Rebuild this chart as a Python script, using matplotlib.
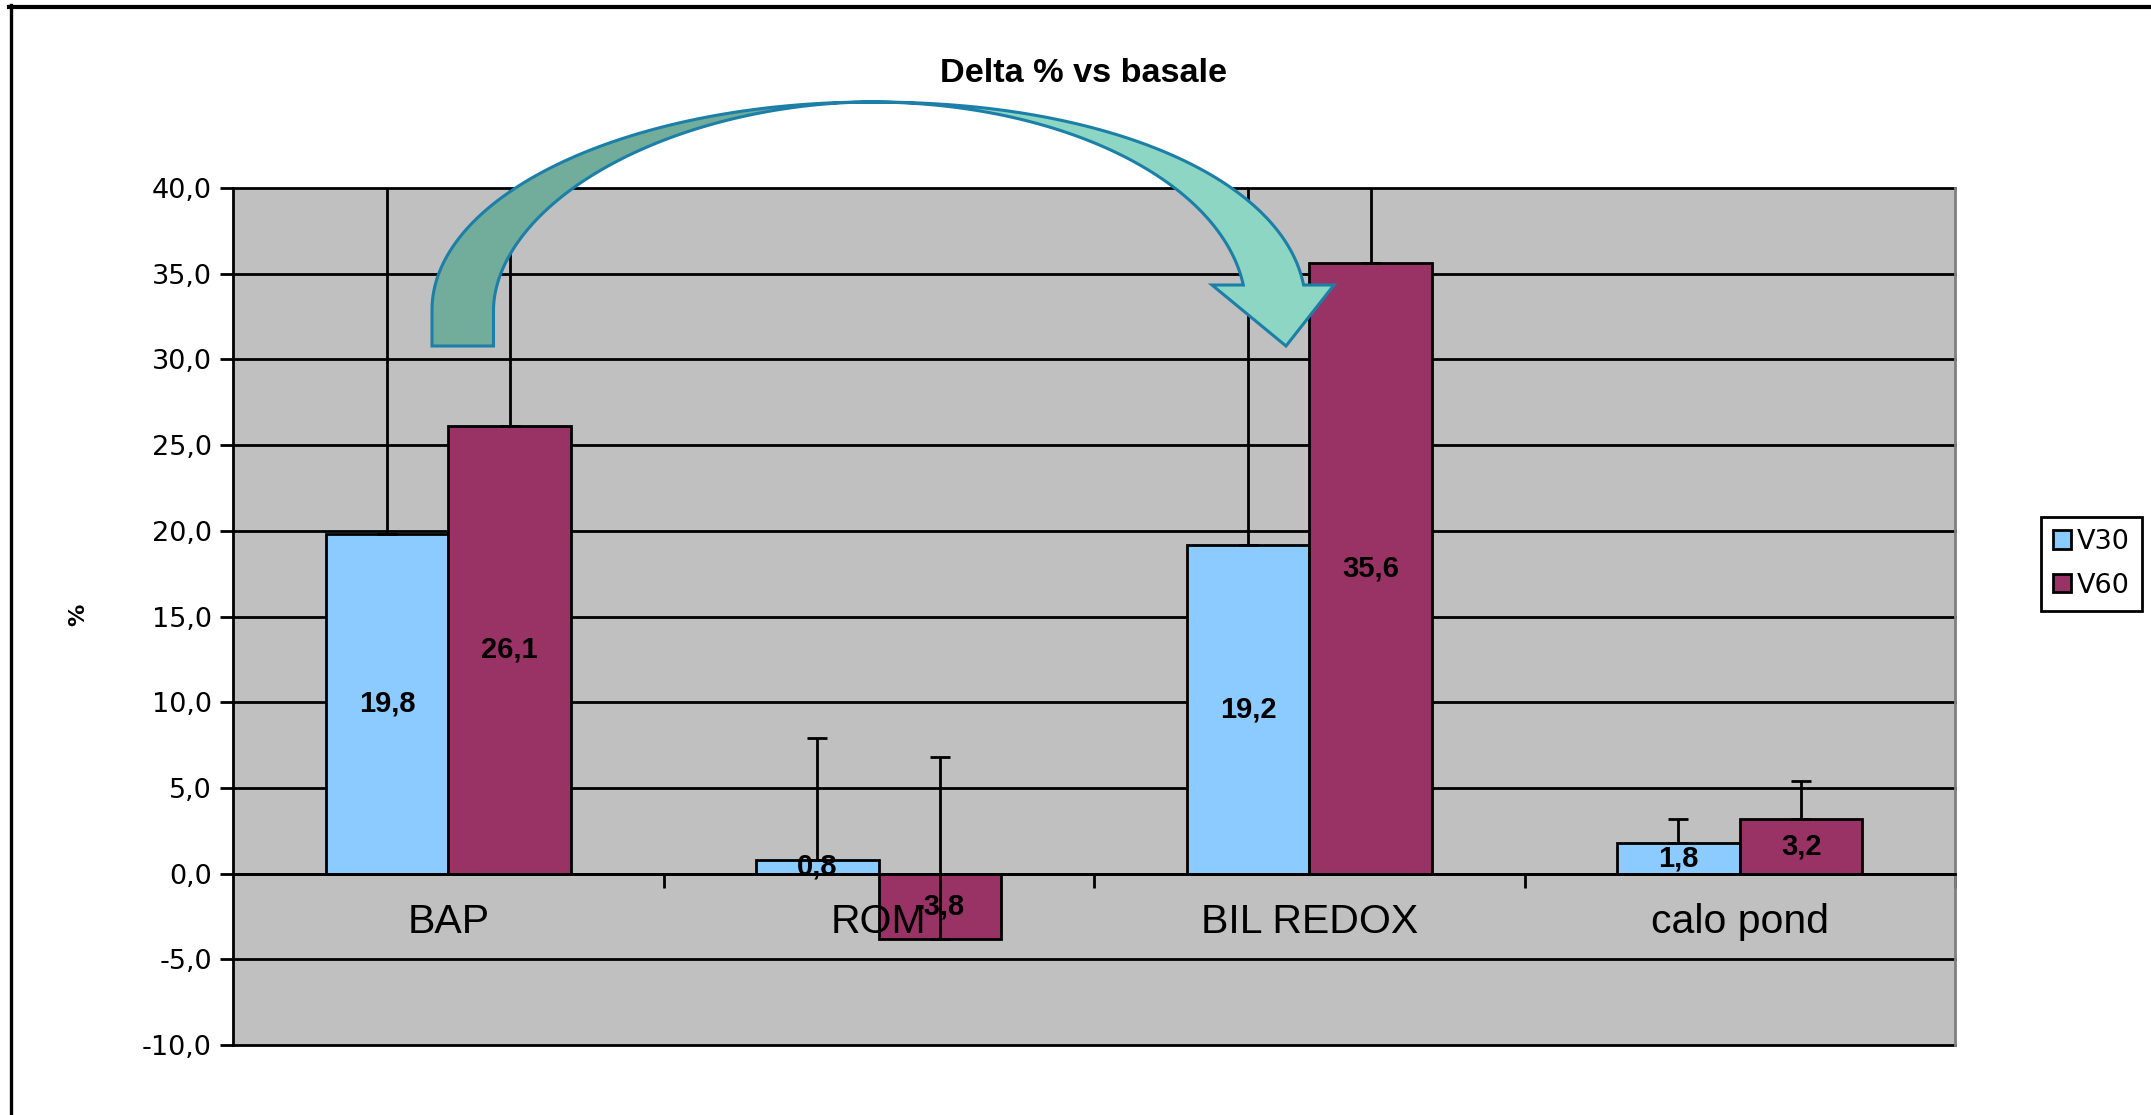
import numpy as np
import matplotlib
matplotlib.use('Agg')
import matplotlib.pyplot as plt
from matplotlib.patches import Polygon, Patch
from matplotlib.lines import Line2D
from matplotlib.ticker import FuncFormatter

categories = ['BAP', 'ROM', 'BIL REDOX', 'calo pond']
series_names = ['V30', 'V60']
v30 = [19.8, 0.8, 19.2, 1.8]
v60 = [26.1, -3.8, 35.6, 3.2]
# upper error only
v30_err = [24.5, 7.1, 26.0, 1.4]
v60_err = [19.0, 10.6, 15.0, 2.2]
colors = ['#8CCBFF', '#993366']

W, H = 2151, 1115
fig = plt.figure(figsize=(W / 100, H / 100), dpi=100)
fig.patch.set_facecolor('white')


def fig_xy(pts):
    pts = np.asarray(pts, dtype=float)
    return np.column_stack([pts[:, 0] / W, 1 - pts[:, 1] / H])


def comma(v, pos=None):
    return f'{v:.1f}'.replace('.', ',')


ax = fig.add_axes([233 / W, 1 - 1045 / H, 1722 / W, 857 / H])
ax.set_facecolor('#C0C0C0')
ax.set_xlim(-0.5, 3.5)
ax.set_ylim(-10, 40)

yt = np.arange(-10, 41, 5)
for y in yt:
    ax.axhline(y, color='black', lw=2, zorder=0.5, clip_on=False)

x = np.arange(len(categories))
bw = 0.285
for off, vals, err, c in [(-bw / 2, v30, v30_err, colors[0]), (bw / 2, v60, v60_err, colors[1])]:
    ax.bar(x + off, vals, bw, color=c, edgecolor='black', linewidth=2, zorder=2)
    ax.errorbar(x + off, vals, yerr=[np.zeros(len(vals)), err], fmt='none',
                ecolor='black', elinewidth=2, capsize=7.2, capthick=2, zorder=3)
    for xi, v in zip(x + off, vals):
        ax.text(xi, v / 2, comma(v), ha='center', va='center', fontsize=21,
                fontweight='bold', family='Liberation Sans', zorder=5)

for i, cat in enumerate(categories):
    ax.text(i, -3.47, cat, ha='center', va='baseline', fontsize=29.5,
            family='Liberation Sans', zorder=4)

ax.spines['top'].set_visible(False)
ax.spines['right'].set_color('#808080')
ax.spines['right'].set_linewidth(2)
ax.spines['left'].set_linewidth(2)
ax.spines['bottom'].set_position(('data', 0))
ax.spines['bottom'].set_linewidth(2)
ax.spines['bottom'].set_zorder(2.5)

ax.set_xticks([0.5, 1.5, 2.5, 3.5])
ax.set_xticklabels([])
ax.tick_params(axis='x', direction='out', length=10, width=2)
ax.set_yticks(yt)
ax.yaxis.set_major_formatter(FuncFormatter(comma))
ax.tick_params(axis='y', direction='out', length=9.4, width=2, pad=5.8, labelsize=19.5)

handles = [Patch(facecolor=c, edgecolor='black', linewidth=2, label=n)
           for c, n in zip(colors, series_names)]
leg = fig.legend(handles=handles, loc='upper left', bbox_to_anchor=(2041 / W, 1 - 517 / H),
                 fancybox=False, edgecolor='black', framealpha=1, fontsize=19.5,
                 handlelength=0.667, handleheight=0.667, handletextpad=0.22,
                 borderpad=0.45, labelspacing=0.65, borderaxespad=0)
leg.get_frame().set_linewidth(2)

fig.text(1084 / W, 1 - 82 / H, 'Delta % vs basale', ha='center', va='baseline',
         fontsize=24.7, fontweight='bold', family='Liberation Sans')
fig.text(78 / W, 1 - 615 / H, '%', rotation=90, ha='center', va='center',
         fontsize=16, fontweight='bold')

# curved ribbon arrow over the chart, built in pixel space
acx, acy, acb = 871, 310, 208
y_tail, y_head = 346, 285


def arc(a, p, t0, t1, n=150):
    t = np.radians(np.linspace(t0, t1, n))
    c, s = np.cos(t), np.sin(t)
    xs = acx + a * np.sign(c) * np.abs(c) ** (2 / p)
    ys = acy - acb * np.sign(s) * np.abs(s) ** (2 / p)
    return np.column_stack([xs, ys])


def angle_at(y, p):
    s = ((acy - y) / acb) ** (p / 2)
    return np.degrees(np.arcsin(s))


back = np.vstack([[[acx - 439, y_tail]], arc(439, 2.0, 180, 90),
                  arc(377.5, 1.9, 90, 180), [[acx - 377.5, y_tail]]])
head = [[1334, y_head], [1286, y_tail], [1212, y_head]]
front = np.vstack([arc(435, 2.1, 90, angle_at(y_head, 2.1)), head,
                   arc(375, 2.0, angle_at(y_head, 2.0), 90)])
for pts, fc in [(back, '#72AC9A'), (front, '#8DD6C3')]:
    fig.add_artist(Polygon(fig_xy(pts), closed=True, facecolor=fc, edgecolor='#1B7FA8',
                           linewidth=2.2, joinstyle='miter', transform=fig.transFigure, zorder=6))

# page frame
fig.add_artist(Line2D([9 / W, 1], [1 - 7 / H, 1 - 7 / H], color='black', lw=3,
                      transform=fig.transFigure))
fig.add_artist(Line2D([11 / W, 11 / W], [1 - 5 / H, 0], color='black', lw=2.4,
                      transform=fig.transFigure))

fig.savefig('out.png', dpi=100)
